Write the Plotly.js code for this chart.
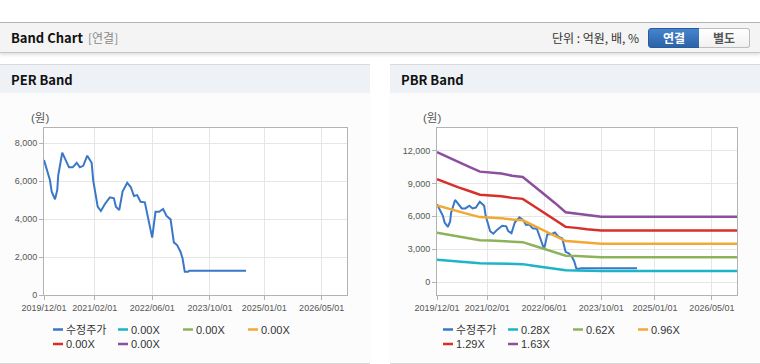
<!DOCTYPE html>
<html><head><meta charset="utf-8">
<script src="https://cdn.plot.ly/plotly-3.0.1.min.js"></script>
<style>
html,body{margin:0;padding:0;background:#fff;width:760px;height:364px;overflow:hidden;font-family:"Noto Sans CJK KR","Liberation Sans",sans-serif;}
.abs{position:absolute;}
#topline{left:0;top:22px;width:760px;height:1px;background:#b5b5b5;}
#hdr{left:0;top:23px;width:760px;height:29px;background:#f4f4f4;border-bottom:1px solid #c6c6c6;box-shadow:0 2px 3px rgba(0,0,0,0.12);}
#hdrTitle{left:11px;top:29px;font-size:13px;font-weight:bold;color:#111;line-height:18px;}
#hdrSub{left:88px;top:29px;font-size:12px;color:#8a8a8a;line-height:18px;}
#unit{left:552px;top:29px;font-size:12px;color:#333;line-height:18px;}
#btn1{left:648px;top:28px;width:50px;height:18px;background:linear-gradient(#4584cc,#2b63a9);border:1px solid #2a5c9c;border-radius:3px 0 0 3px;color:#fff;font-size:12px;font-weight:bold;text-align:center;line-height:18px;}
#btn2{left:699px;top:28px;width:50px;height:18px;background:linear-gradient(#ffffff,#f1f1f1);border:1px solid #bdbdbd;border-left:none;border-radius:0 3px 3px 0;color:#555;font-size:12px;font-weight:bold;text-align:center;line-height:18px;}
.panel{top:64px;width:370px;height:298px;background:#fcfcfc;border-top:1px solid #d8d8d8;border-bottom:1px solid #d8d8d8;}
.phead{position:absolute;left:0;top:0;width:370px;height:28px;background:#eef2f7;}
.ptitle{position:absolute;left:11px;top:6px;font-size:13px;font-weight:bold;color:#111;line-height:18px;}
.plot{position:absolute;left:0;top:28px;width:370px;height:269px;}
</style></head>
<body>
<div class="abs" id="topline"></div>
<div class="abs" id="hdr"></div>
<div class="abs" id="hdrTitle">Band Chart</div>
<div class="abs" id="hdrSub">[연결]</div>
<div class="abs" id="unit">단위 : 억원, 배, %</div>
<div class="abs" id="btn1">연결</div>
<div class="abs" id="btn2">별도</div>
<div class="abs panel" style="left:0;"><div class="phead"><div class="ptitle">PER Band</div></div><div class="plot" id="per"></div></div>
<div class="abs panel" style="left:390px;"><div class="phead"><div class="ptitle">PBR Band</div></div><div class="plot" id="pbr"></div></div>
<script>
// ---- data ----
const priceName = '수정주가';
const priceDates = ['2019-12-01','2020-01-20','2020-02-04','2020-03-03','2020-03-22','2020-03-30','2020-05-03','2020-05-26','2020-06-29','2020-07-30','2020-09-02','2020-09-29','2020-10-27','2020-11-30','2021-01-06','2021-01-19','2021-02-09','2021-02-26','2021-03-25','2021-04-28','2021-06-09','2021-07-13','2021-07-30','2021-08-27','2021-09-24','2021-11-02','2021-12-03','2021-12-29','2022-01-25','2022-02-23','2022-03-31','2022-04-28','2022-06-01','2022-06-29','2022-07-30','2022-09-01','2022-09-30','2022-11-03','2022-12-01','2022-12-28','2023-01-26','2023-02-12','2023-03-03','2023-03-31','2023-04-09','2024-08-01'];
const priceValues = [7100,6050,5440,5040,5530,6300,7490,7190,6720,6720,6960,6720,6800,7330,6960,6050,5170,4650,4420,4790,5140,5090,4650,4470,5440,5910,5670,5210,5260,4910,4880,3950,3020,4380,4380,4530,4160,3980,2770,2630,2280,1930,1230,1230,1280,1280];

const perBandNames = ['0.00X','0.00X','0.00X','0.00X','0.00X'];

const bandDates = ['2019-12-01','2020-03-01','2020-06-01','2020-09-01','2020-12-01','2021-03-01','2021-06-01','2021-09-01','2021-12-01','2022-03-01','2022-06-01','2022-09-01','2022-12-01','2023-03-01','2023-06-01','2023-10-01','2026-12-01'];
const pbrBandNames = ['0.28X','0.62X','0.96X','1.29X','1.63X'];
const pbr028 = [2040,1950,1880,1800,1730,1710,1700,1670,1650,1510,1380,1240,1090,1080,1050,1030,1030];
const pbr062 = [4510,4330,4150,3990,3830,3790,3760,3690,3650,3350,3050,2750,2420,2380,2320,2270,2270];
const pbr096 = [6980,6700,6430,6180,5930,5880,5830,5710,5640,5180,4720,4250,3750,3690,3590,3510,3510];
const pbr129 = [9380,9000,8640,8310,7970,7890,7830,7680,7590,6970,6350,5710,5040,4950,4820,4720,4720];
const pbr163 = [11850,11380,10920,10500,10070,9980,9890,9700,9580,8800,8020,7220,6370,6260,6100,5970,5970];

const xTickVals = ['2019-12-01','2021-02-01','2022-06-01','2023-10-01','2025-01-01','2026-05-01'];
const xTickText = ['2019/12/01','2021/02/01','2022/06/01','2023/10/01','2025/01/01','2026/05/01'];
const unitLabel = '(원)';

// ---- styles ----
const priceColor = '#3a77c8';
const bandColors = ['#1db4c6','#8db35a','#f2a934','#d7302a','#8c4f9f'];
const W = 370, H = 269;

function makeLayout(l, r, t, b, yRange, yDtick, names, unitX) {
  const w = W - l - r, h = H - t - b;
  const px = x => (x - l) / w;
  const py = y => (t + h - y) / h;
  const shapes = [], annotations = [];
  annotations.push({xref:'paper', yref:'paper', x:px(unitX), y:py(25), xanchor:'center', yanchor:'middle', showarrow:false, text:unitLabel, font:{size:11.5, color:'#555', family:'Liberation Sans, Noto Sans CJK KR, sans-serif'}});
  const cols = [53,118,183,248,53,118], rows = [236.5,236.5,236.5,236.5,251,251];
  const colors = [priceColor].concat(bandColors);
  names.forEach((n, i) => {
    shapes.push({type:'line', xref:'paper', yref:'paper', x0:px(cols[i]), x1:px(cols[i]+10), y0:py(rows[i]), y1:py(rows[i]), line:{color:colors[i], width:2.5}});
    annotations.push({xref:'paper', yref:'paper', x:px(cols[i]+11), y:py(rows[i]), xanchor:'left', yanchor:'middle', showarrow:false, text:n, font:{size:11, color:'#333', family:'Liberation Sans, Noto Sans CJK KR, sans-serif'}});
  });
  return {
    width: W, height: H,
    margin: {l:l, r:r, t:t, b:b, pad:0},
    paper_bgcolor: '#fcfcfc', plot_bgcolor: '#ffffff',
    showlegend: false,
    font: {family:'Liberation Sans, Arial, sans-serif', size:9, color:'#555'},
    xaxis: {type:'date', range:['2019-12-01','2026-12-01'], tickvals:xTickVals, ticktext:xTickText,
      showgrid:true, gridcolor:'#e6e6e6', gridwidth:1, showline:true, linecolor:'#b3b3b3', linewidth:1, mirror:true,
      ticks:'outside', ticklen:4, tickcolor:'#b3b3b3', tickfont:{size:9, color:'#555'}, zeroline:false, fixedrange:true},
    yaxis: {range:yRange, tick0:0, dtick:yDtick, tickformat:',d',
      showgrid:true, gridcolor:'#e6e6e6', gridwidth:1, showline:true, linecolor:'#b3b3b3', linewidth:1, mirror:true,
      ticks:'outside', ticklen:4, tickcolor:'#b3b3b3', tickfont:{size:9, color:'#555'}, zeroline:false, fixedrange:true},
    shapes: shapes, annotations: annotations
  };
}

const priceTrace = {type:'scatter', mode:'lines', x:priceDates, y:priceValues, name:priceName, line:{color:priceColor, width:2}};

// PER
const perTraces = [priceTrace].concat(perBandNames.map((n, i) => ({type:'scatter', mode:'lines', x:[], y:[], name:n, line:{color:bandColors[i], width:2.5}})));
Plotly.newPlot('per', perTraces, makeLayout(44, 23, 35, 67, [0, 8790], 2000, [priceName].concat(perBandNames), 40), {staticPlot:true, displayModeBar:false});

// PBR
const pbrSeries = [pbr028, pbr062, pbr096, pbr129, pbr163];
const pbrTraces = [priceTrace].concat(pbrSeries.map((s, i) => ({type:'scatter', mode:'lines', x:bandDates, y:s, name:pbrBandNames[i], line:{color:bandColors[i], width:2.5}})));
Plotly.newPlot('pbr', pbrTraces, makeLayout(47, 23, 35, 67, [-1160, 14040], 3000, [priceName].concat(pbrBandNames), 42), {staticPlot:true, displayModeBar:false});
</script>
</body></html>
